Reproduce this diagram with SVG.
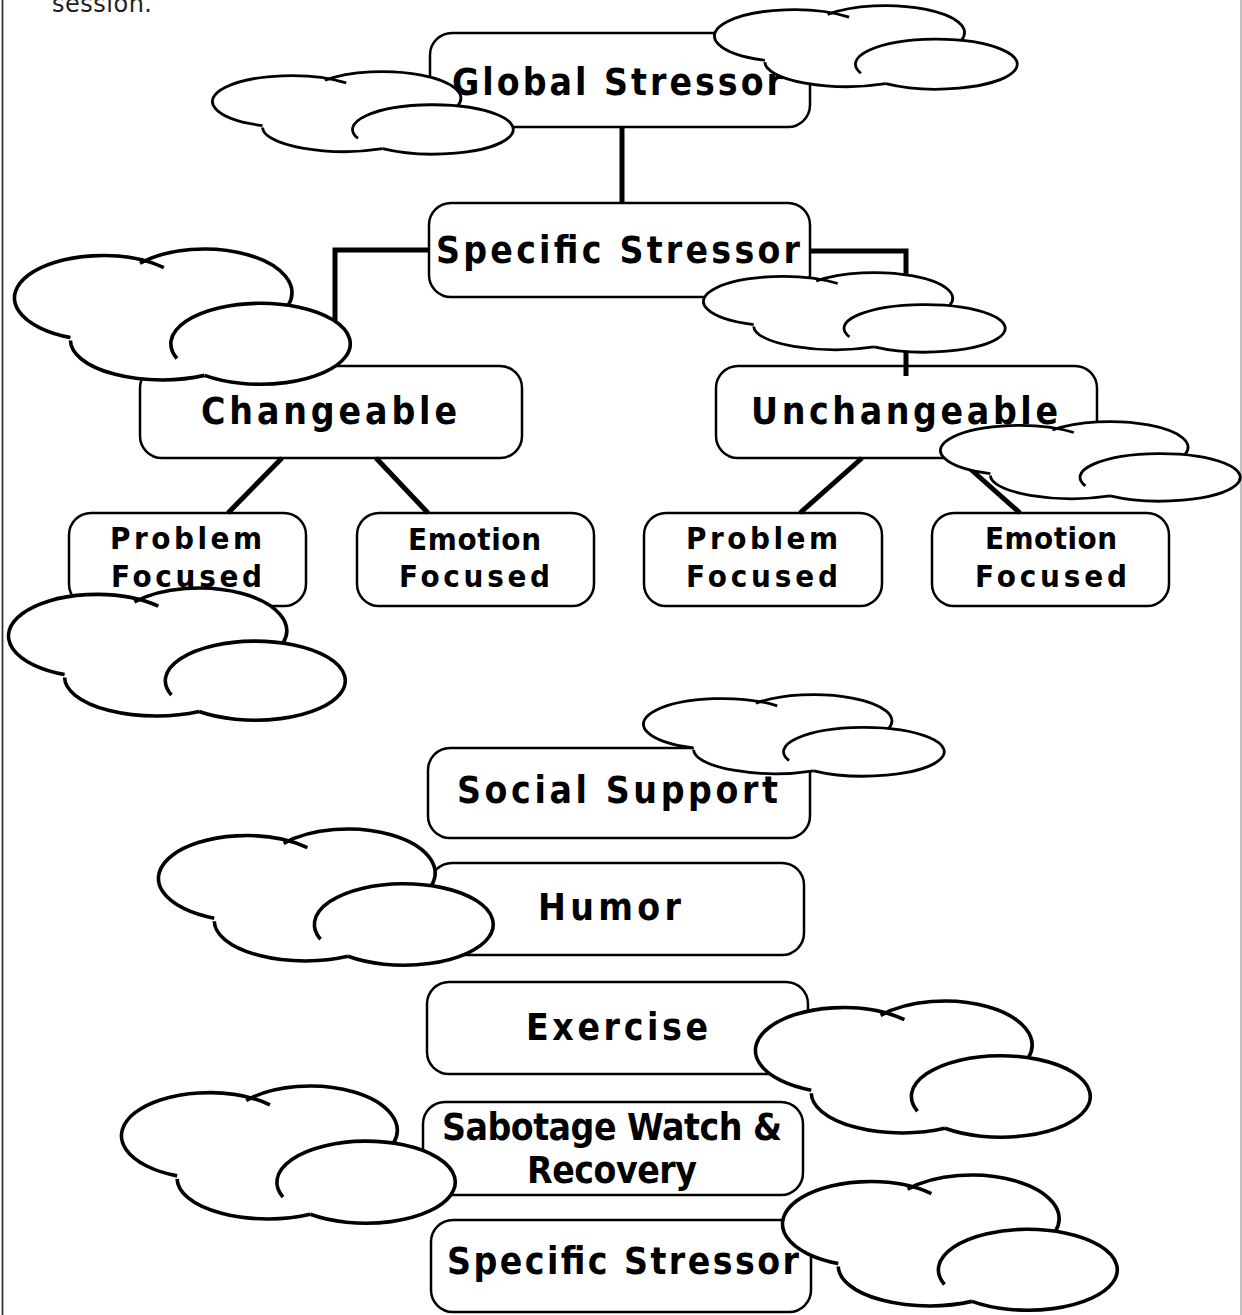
<svg xmlns="http://www.w3.org/2000/svg" xmlns:xlink="http://www.w3.org/1999/xlink" width="1242" height="1315" viewBox="0 0 1242 1315">
<style>
.box{fill:#fff;stroke:#000;stroke-width:2.5}
.lbl{font-family:"DejaVu Sans Condensed","DejaVu Sans",sans-serif;font-weight:bold;fill:#000}
.big{font-size:37px}
.small{font-size:31px}
.conn{fill:none;stroke:#000;stroke-width:5;stroke-linejoin:miter}
.cfill{fill:#fff;stroke:none}
.cline{fill:none;stroke:#000;vector-effect:non-scaling-stroke;stroke-linecap:butt}
.thin{stroke-width:2.8px}
.thick{stroke-width:3.6px}
</style>
<defs>
<g id="cloud">
<ellipse class="cfill" cx="262" cy="150" rx="262" ry="128"/>
<ellipse class="cfill" cx="568" cy="134" rx="260" ry="132"/>
<ellipse class="cfill" cx="440" cy="278" rx="272" ry="120"/>
<ellipse class="cfill" cx="733" cy="288" rx="267" ry="122"/>
<path class="cline" d="M168,270 A262,128 0 1 1 446,59"/>
<path class="cline" d="M375,46 A260,132 0 0 1 816,173"/>
<path class="cline" d="M485,333 A267,122 0 1 1 567,384"/>
<path class="cline" d="M168,279 A272,120 0 0 0 567,384"/>
</g>
</defs>
<rect width="1242" height="1315" fill="#fff"/>
<line x1="2.5" y1="0" x2="2.5" y2="1315" stroke="#333" stroke-width="1.8"/>
<line x1="1241" y1="0" x2="1241" y2="1315" stroke="#999" stroke-width="1.2"/>
<text x="52" y="12" font-family="'DejaVu Sans',sans-serif" font-size="24" fill="#222" textLength="100" lengthAdjust="spacing">session.</text>

<g id="nodes">
<g id="global-stressor"><rect class="box" x="430" y="33" width="380" height="94" rx="22"/></g>
<g id="specific-stressor"><rect class="box" x="429" y="203" width="381" height="94" rx="22"/></g>
<g id="changeable"><rect class="box" x="140" y="366" width="382" height="92" rx="22"/></g>
<g id="unchangeable"><rect class="box" x="716" y="366" width="381" height="92" rx="22"/></g>
<g id="problem-focused-1"><rect class="box" x="69" y="513" width="237" height="93" rx="22"/></g>
<g id="emotion-focused-1"><rect class="box" x="357" y="513" width="237" height="93" rx="22"/></g>
<g id="problem-focused-2"><rect class="box" x="644" y="513" width="238" height="93" rx="22"/></g>
<g id="emotion-focused-2"><rect class="box" x="932" y="513" width="237" height="93" rx="22"/></g>
<g id="social-support"><rect class="box" x="428" y="748" width="382" height="90" rx="22"/></g>
<g id="humor"><rect class="box" x="430" y="863" width="374" height="92" rx="22"/></g>
<g id="exercise"><rect class="box" x="427" y="982" width="381" height="92" rx="22"/></g>
<g id="sabotage"><rect class="box" x="423" y="1102" width="380" height="93" rx="22"/></g>
<g id="specific-stressor-2"><rect class="box" x="431" y="1220" width="380" height="92" rx="22"/></g>
</g>

<g id="connectors">
<path class="conn" d="M622,127 V203"/>
<path class="conn" d="M429,250 H335 V366"/>
<path class="conn" d="M810,251 H906 V376"/>
<path class="conn" d="M282,458 L228,513"/>
<path class="conn" d="M376,458 L428,513"/>
<path class="conn" d="M862,458 L800,513"/>
<path class="conn" d="M958,458 L1020,513"/>
</g>

<g id="labels">
<text class="lbl big" x="452" y="95" textLength="331" lengthAdjust="spacing">Global Stressor</text>
<text class="lbl big" x="436" y="263" font-size="38" textLength="364" lengthAdjust="spacing">Specific Stressor</text>
<text class="lbl big" x="201" y="424" textLength="256" lengthAdjust="spacing">Changeable</text>
<text class="lbl big" x="751" y="424" textLength="307" lengthAdjust="spacing">Unchangeable</text>
<text class="lbl small" x="110" y="549" textLength="152" lengthAdjust="spacing">Problem</text>
<text class="lbl small" x="111" y="587" textLength="151" lengthAdjust="spacing">Focused</text>
<text class="lbl small" x="408" y="550" textLength="133" lengthAdjust="spacing">Emotion</text>
<text class="lbl small" x="399" y="587" textLength="151" lengthAdjust="spacing">Focused</text>
<text class="lbl small" x="686" y="549" textLength="152" lengthAdjust="spacing">Problem</text>
<text class="lbl small" x="686" y="587" textLength="152" lengthAdjust="spacing">Focused</text>
<text class="lbl small" x="985" y="549" textLength="132" lengthAdjust="spacing">Emotion</text>
<text class="lbl small" x="975" y="587" textLength="152" lengthAdjust="spacing">Focused</text>
<text class="lbl big" x="457" y="803" textLength="321" lengthAdjust="spacing">Social Support</text>
<text class="lbl big" x="538" y="920" textLength="143" lengthAdjust="spacing">Humor</text>
<text class="lbl big" x="526" y="1040" textLength="182" lengthAdjust="spacing">Exercise</text>
<text class="lbl big" x="442" y="1140" textLength="340" lengthAdjust="spacing">Sabotage Watch &amp;</text>
<text class="lbl big" x="527" y="1183" textLength="170" lengthAdjust="spacing">Recovery</text>
<text class="lbl big" x="447" y="1274" textLength="352" lengthAdjust="spacing">Specific Stressor</text>
</g>

<g id="clouds">
<use id="cloud-1" class="thin" xlink:href="#cloud" transform="translate(212,71) scale(0.301,0.2024)"/>
<use id="cloud-2" class="thin" xlink:href="#cloud" transform="translate(714,5) scale(0.303,0.2049)"/>
<use id="cloud-3" class="thick" xlink:href="#cloud" transform="translate(14,248) scale(0.336,0.3317)"/>
<use id="cloud-4" class="thin" xlink:href="#cloud" transform="translate(703,272) scale(0.302,0.1951)"/>
<use id="cloud-5" class="thin" xlink:href="#cloud" transform="translate(940,421) scale(0.300,0.1951)"/>
<use id="cloud-6" class="thick" xlink:href="#cloud" transform="translate(8,587) scale(0.337,0.3244)"/>
<use id="cloud-7" class="thin" xlink:href="#cloud" transform="translate(643,694) scale(0.301,0.2)"/>
<use id="cloud-8" class="thick" xlink:href="#cloud" transform="translate(158,828) scale(0.335,0.3341)"/>
<use id="cloud-9" class="thick" xlink:href="#cloud" transform="translate(755,1000) scale(0.335,0.3341)"/>
<use id="cloud-10" class="thick" xlink:href="#cloud" transform="translate(121,1085) scale(0.334,0.3366)"/>
<use id="cloud-11" class="thick" xlink:href="#cloud" transform="translate(782,1174) scale(0.335,0.3317)"/>
</g>
</svg>
